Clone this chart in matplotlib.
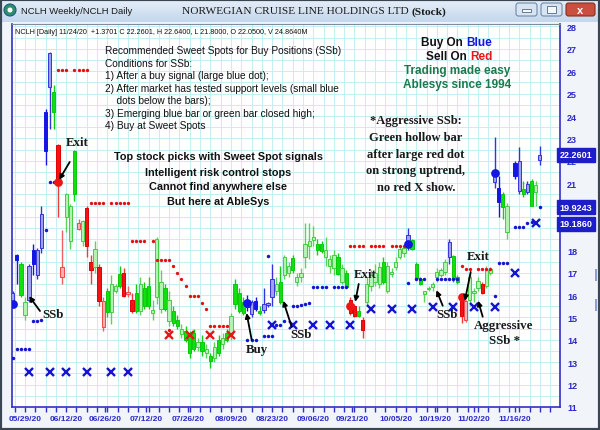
import numpy as np
import matplotlib
matplotlib.use('Agg')
import matplotlib.pyplot as plt
from matplotlib.patches import Rectangle, FancyBboxPatch, Ellipse
from matplotlib.transforms import IdentityTransform, blended_transform_factory
from matplotlib.colors import LinearSegmentedColormap

# ---------------- data ----------------
kinds = list("bBGgbBbbBb" "GRrggGrgRR" "gRrGggGRrR" "GgGGgggGgG" "GgGGGgGgGg"
             "GgGgGGGBbB" "GbbbgGggGg" "ggggGGgggG" "gGRRGRgggg" "GgggggbGGG"
             "ggggggbGGR" "rgggRggbBG" "g-BbGbGgb")
nan = np.nan
opens = [15.7, 17.8, 17.4, 15.1, 15.8, 18.0, 16.9, 18.1, 24.2, 25.3,
         25.05, 22.7, 16.8, 19.5, 18.4, 22.45, 18.95, 18.4, 19.9, 17.5,
         17.25, 17.25, 14.57, 16.2, 15.25, 16.2, 16.95, 17.0, 16.05, 15.8,
         16.1, 15.3, 16.3, 16.4, 15.2, 15.9, 15.4, 16.3, 14.85, 15.3,
         14.9, 14.25, 14.4, 14.2, 14.3, 13.7, 13.9, 13.4, 13.3, 13.2,
         14.0, 13.8, 14.3, 14.26, 16.5, 16.1, 15.7, 15.8, 15.15, 15.75,
         15.3, 15.35, 15.55, 15.9, 16.2, 16.6, 16.9, 17.0, 17.65, 16.6,
         16.8, 17.7, 18.2, 18.45, 18.3, 18.3, 17.7, 17.3, 17.2, 17.7,
         16.6, 17.0, 15.8, 15.5, 15.3, 14.9, 15.7, 16.4, 16.6, 16.5,
         17.5, 16.2, 16.95, 17.25, 17.7, 17.9, 18.2, 18.45, 17.4, 16.7,
         16.05, 16.25, 16.35, 16.8, 16.9, 17.05, 17.7, 17.75, 16.8, 15.95,
         14.9, 15.76, 16.1, 16.3, 16.5, 16.4, 17.0, 21.03, 20.8, 20.5,
         18.8, nan, 21.9, 20.67, 20.75, 20.6, 21.1, 20.6, 22.05]
highs = [16.2, 17.85, 17.5, 15.9, 17.4, 18.3, 18.1, 20.0, 24.3, 26.85,
         25.4, 22.75, 18.9, 20.55, 20.05, 22.5, 19.4, 19.35, 20.0, 17.8,
         18.4, 17.4, 15.9, 16.3, 16.9, 16.5, 17.3, 17.2, 16.4, 16.1,
         16.5, 16.8, 16.6, 16.8, 15.8, 18.6, 17.1, 16.5, 16.2, 15.5,
         15.1, 14.7, 14.6, 14.4, 14.5, 14.1, 14.2, 13.8, 13.4, 13.9,
         14.2, 14.3, 14.5, 15.2, 16.7, 16.3, 15.9, 16.0, 15.8, 15.9,
         15.5, 16.3, 15.7, 17.4, 16.8, 17.3, 17.8, 17.5, 17.8, 17.0,
         17.2, 19.2, 19.2, 19.1, 18.5, 18.4, 18.6, 17.8, 18.0, 17.9,
         17.4, 17.1, 15.9, 15.6, 15.5, 15.0, 16.8, 17.1, 17.4, 17.5,
         17.7, 17.5, 17.2, 17.7, 18.2, 18.3, 19.0, 18.5, 17.5, 16.8,
         16.2, 16.4, 16.6, 17.2, 17.2, 17.6, 18.5, 17.8, 16.9, 16.0,
         15.8, 17.0, 16.3, 16.8, 16.6, 17.3, 17.25, 23.04, 21.3, 20.6,
         20.1, nan, 22.0, 22.6, 21.1, 21.1, 21.2, 21.1, 22.64]
lows = [15.5, 16.5, 15.9, 14.9, 15.7, 16.9, 16.7, 17.9, 21.8, 23.4,
        23.4, 19.5, 16.5, 18.8, 18.05, 20.2, 18.9, 18.2, 17.7, 16.5,
        17.0, 15.5, 14.4, 15.0, 14.7, 16.1, 16.3, 15.9, 15.9, 15.2,
        15.2, 15.1, 15.4, 15.4, 14.9, 15.6, 15.2, 15.3, 14.6, 14.6,
        14.5, 14.1, 13.9, 13.2, 13.5, 13.5, 13.3, 13.2, 12.75, 13.0,
        13.3, 13.6, 13.9, 14.0, 15.4, 15.2, 15.1, 15.3, 15.0, 15.3,
        15.1, 15.2, 15.45, 15.5, 16.0, 15.6, 16.7, 16.8, 17.0, 16.4,
        16.6, 17.2, 17.6, 18.2, 17.8, 17.9, 17.3, 17.0, 16.9, 16.9,
        16.5, 16.3, 15.1, 15.0, 15.0, 14.1, 15.5, 16.2, 16.4, 16.3,
        16.5, 16.1, 16.8, 17.1, 17.6, 17.7, 18.0, 18.0, 16.7, 16.45,
        15.7, 16.2, 16.2, 16.6, 16.8, 16.9, 17.4, 16.6, 16.5, 14.75,
        14.8, 15.5, 15.7, 16.2, 16.05, 16.3, 16.9, 20.8, 19.47, 19.4,
        18.5, nan, 21.2, 20.5, 20.4, 20.5, 20.0, 20.0, 21.8]
closes = [16.1, 17.55, 16.0, 15.7, 17.3, 17.4, 18.0, 19.6, 22.45, 26.8,
          24.17, 21.05, 17.25, 20.5, 20.0, 20.5, 19.2, 19.3, 18.2, 17.1,
          18.05, 15.75, 15.75, 15.25, 16.5, 16.4, 16.4, 15.95, 16.15, 15.3,
          15.3, 16.5, 15.5, 15.5, 15.35, 18.5, 16.6, 15.4, 15.8, 14.75,
          14.6, 14.5, 14.0, 13.4, 13.6, 13.9, 13.5, 13.6, 13.07, 13.7,
          13.4, 14.1, 14.0, 15.07, 15.6, 15.3, 15.2, 15.45, 15.7, 15.4,
          15.2, 15.6, 15.6, 16.7, 16.5, 15.7, 17.7, 17.3, 17.1, 16.8,
          17.0, 18.3, 18.4, 18.6, 18.0, 17.95, 18.0, 17.6, 17.8, 16.95,
          17.2, 16.35, 15.2, 15.05, 15.05, 14.42, 16.5, 16.9, 17.0, 17.25,
          16.6, 17.3, 17.05, 17.5, 18.05, 18.1, 18.7, 18.05, 16.75, 16.5,
          16.2, 16.3, 16.5, 17.05, 17.1, 17.5, 18.35, 16.7, 16.6, 15.05,
          15.75, 16.8, 16.2, 16.65, 16.1, 17.1, 17.15, 21.55, 20.14, 19.93,
          20.0, nan, 21.3, 22.0, 20.5, 20.95, 20.0, 20.9, 22.26]

red_dot_x = [11, 12, 13, 15, 16, 17, 18, 19, 20, 21, 22, 24, 25, 26, 27, 28,
             29, 30, 31, 32, 34, 35, 36, 37, 38, 39, 40, 41, 42, 43, 44, 45, 46, 47,
             48, 49, 50, 51, 52, 38, 82, 83, 84, 85, 87, 88, 89, 90, 92, 93, 94, 95,
             109, 110, 111, 113, 114, 115, 116]
red_dot_y = [26.05, 26.05, 26.05, 26.05, 26.05, 26.05, 26.05, 20.1, 20.1, 20.1, 20.1,
             20.1, 20.1, 20.1, 20.1, 20.1, 18.4, 18.4, 18.4, 18.4, 18.4, 17.55, 17.55,
             17.55, 17.55, 17.3, 17.0, 16.7, 16.4, 15.97, 15.97, 15.97, 15.64, 15.37,
             14.63, 14.63, 14.63, 14.63, 14.63, 14.45, 18.2, 18.2, 18.2, 18.2, 18.2,
             18.2, 18.2, 18.2, 18.2, 18.2, 18.2, 18.2, 17.3, 17.16, 17.16, 17.16, 17.16,
             17.16, 17.16]
blue_dot_x = [0, 1, 2, 3, 4, 5, 6, 7, 8, 9, 10, 57, 58, 59, 61, 62, 63, 64, 65, 66, 62,
              68, 69, 70, 71, 72, 73, 74, 75, 76, 78, 79, 80, 81, 96, 98, 99, 100, 103,
              104, 105, 106, 107, 108, 117, 118, 119, 120, 122, 123, 124, 125, 126, 128]
blue_dot_y = [13.2, 13.6, 13.6, 13.6, 13.6, 14.85, 14.85, 14.9, 18.9, 21.05, 21.05,
              14.0, 14.0, 14.0, 14.15, 14.15, 14.15, 14.66, 14.66, 14.85, 17.75,
              15.5, 15.52, 15.55, 15.6, 15.66, 16.34, 16.34, 16.34, 16.34, 16.34, 16.34,
              16.34, 16.34, 16.53, 16.7, 16.7, 16.7, 16.7, 16.7, 16.7, 16.7, 16.7, 16.7,
              15.97, 17.45, 17.45, 17.45, 19.05, 19.05, 19.05, 19.2, 19.25, 19.95]
blue_x_x = [4, 9, 13, 18, 24, 28, 63, 68, 73, 77, 82, 87, 92, 97, 102, 107, 112, 117, 122, 127]
blue_x_y = [12.56, 12.56, 12.56, 12.56, 12.56, 12.56, 14.66, 14.66, 14.66, 14.66, 14.66,
            15.37, 15.37, 15.37, 15.48, 15.48, 15.48, 15.48, 16.98, 19.2]
red_x_x = [38, 43, 48, 53]
red_x_y = [14.2, 14.2, 14.2, 14.2]
big_blue_x = [0, 57, 96, 117]
big_blue_y = [15.6, 15.64, 18.3, 21.47]
big_red_x = [11, 82, 109]
big_red_y = [21.05, 15.52, 15.9]

date_labels = ['05/29/20', '06/12/20', '06/26/20', '07/12/20', '07/26/20', '08/09/20',
               '08/23/20', '09/06/20', '09/21/20', '10/05/20', '10/19/20', '11/02/20',
               '11/16/20']
date_pos = [3, 13, 22.5, 32.5, 42.5, 53, 63, 73, 82.5, 93, 102.5, 112, 122]
price_ticks = list(range(11, 29))
value_boxes = [22.2601, 19.9243, 19.1860]

header = "NCLH [Daily] 11/24/20  +1.3701 C 22.2601, H 22.6400, L 21.8000, O 22.0500, V 24.8640M"
conditions = ["Recommended Sweet Spots for Buy Positions (SSb)",
              "Conditions for SSb:",
              "1) After a buy signal (large blue dot);",
              "2) After market has tested support levels (small blue",
              "    dots below the bars);",
              "3) Emerging blue bar or green bar closed high;",
              "4) Buy at Sweet Spots"]
promo = ["Top stock picks with Sweet Spot signals",
         "Intelligent risk control stops",
         "Cannot find anywhere else",
         "But here at AbleSys"]
aggressive = ["*Aggressive SSb:", "Green hollow bar", "after large red dot",
              "on strong uptrend,", "no red X show."]

# ---------------- figure ----------------
W, H = 600, 431
SANS = ['Liberation Sans', 'DejaVu Sans']
SERIF = ['Liberation Serif', 'DejaVu Serif']
fig = plt.figure(figsize=(6, 4.31), dpi=100, facecolor='#F1F4F9')

def fx(x):
    return x / W

def fy(y):
    return 1 - y / H

ident = IdentityTransform()

# title bar gradient
tax = fig.add_axes([0, fy(23), 1, 23 / H])
grad = np.linspace(0, 1, 50).reshape(-1, 1)
tax.imshow(grad, aspect='auto', cmap=LinearSegmentedColormap.from_list('t', ['#E6EFF9', '#C4D7EC']))
tax.axis('off')

ax = fig.add_axes([fx(12), fy(408), fx(560) - fx(12), fy(25) - fy(408)])
ax.set_xlim(-0.15, 132.9)
ax.set_ylim(11, 28.11)
ax.set_facecolor('white')

# grid
for gx in np.arange(0.5, 133, 2.5):
    ax.axvline(gx, color='#C4EEF5', lw=0.7, zorder=0)
for gy in np.arange(11, 28.2, 0.5):
    ax.axhline(gy, color='#C4EEF5', lw=0.7, zorder=0)

styles = {
    'B': ('#1616E4', '#1616E4', '#1616E4'),
    'b': ('#A0A0F2', '#3434DE', '#3434DE'),
    'G': ('#10E010', '#0AC80A', '#10D010'),
    'g': ('#B2F2B2', '#44CC44', '#58D458'),
    'R': ('#F21414', '#E00000', '#F03A3A'),
    'r': ('#FFB2B2', '#F04646', '#F06060'),
}
bw = 0.8
for i, k in enumerate(kinds):
    if k == '-' or np.isnan(opens[i]):
        continue
    face, edge, wick = styles[k]
    o, h, l, c = opens[i], highs[i], lows[i], closes[i]
    ax.vlines(i, l, h, color=wick, lw=1.0, zorder=2)
    lo = min(o, c)
    ht = max(abs(c - o), 0.08)
    ax.add_patch(Rectangle((i - bw / 2, lo), bw, ht, facecolor=face, edgecolor=edge,
                           lw=0.7, zorder=3))

ax.plot(red_dot_x, red_dot_y, 'o', color='#E41010', ms=2.4, mew=0, zorder=4, ls='none')
ax.plot(blue_dot_x, blue_dot_y, 'o', color='#1414D2', ms=2.5, mew=0, zorder=4, ls='none')
ax.plot(blue_x_x, blue_x_y, 'x', color='#1414D2', ms=5.2, mew=1.7, zorder=4, ls='none')
ax.plot(red_x_x, red_x_y, 'x', color='#E41818', ms=5.2, mew=1.7, zorder=4, ls='none')
ax.plot(big_blue_x, big_blue_y, 'o', color='#1414E4', ms=6.3, mew=0, zorder=5, ls='none')
ax.plot(big_red_x, big_red_y, 'o', color='#F01414', ms=6.3, mew=0, zorder=5, ls='none')

# axes styling
for s in ['left', 'bottom', 'right']:
    ax.spines[s].set_color('#3030C8')
    ax.spines[s].set_linewidth(1.2)
ax.spines['top'].set_color('#7F8C9C')
ax.spines['top'].set_linewidth(0.8)
ax.yaxis.tick_right()
ax.set_yticks(price_ticks)
ax.set_yticklabels([str(p) for p in price_ticks], fontsize=6.5, fontweight='bold',
                   color='#2A2AC8', family=SANS)
ax.tick_params(axis='y', length=0, pad=5)
ax.set_xticks(date_pos)
ax.set_xticklabels(date_labels, fontsize=6, fontweight='bold', color='#2A2AC8', family=SANS)
ax.set_xticks(np.arange(0.5, 133, 2.5), minor=True)
ax.tick_params(axis='x', which='both', length=3.5, color='#3030C8', width=1, pad=2)

# value boxes on the right (they cover the price labels, as in the source)
bt = blended_transform_factory(ax.transAxes, ax.transData)
for v in value_boxes:
    ax.text((576 - 12) / 548, v, f"{v:.4f}", transform=bt, ha='center', va='center',
            fontsize=6.5, fontweight='bold', color='white', family=SANS, clip_on=False,
            zorder=10, bbox=dict(boxstyle='square,pad=0.28', fc='#1E1EC8', ec='#1E1EC8'))

# texts
fig.text(fx(15), fy(33), header, fontsize=5.2, color='#111111', family=SANS, va='center')
for k, line in enumerate(conditions):
    fig.text(fx(105), fy(51.5 + 12.45 * k), line, fontsize=7.3, color='#111111',
             family=SANS, va='center', ha='left')
for k, line in enumerate(promo):
    fig.text(fx(218), fy(157.5 + 15 * k), line, fontsize=7.8, fontweight='bold',
             color='#111111', family=SANS, va='center', ha='center')
for k, line in enumerate(aggressive):
    fig.text(fx(416), fy(121 + 16.8 * k), line, fontsize=9, fontweight='bold',
             color='#1A1A1A', family=SERIF, va='center', ha='center')

fig.text(fx(463), fy(43), "Buy On", fontsize=8.5, fontweight='bold', color='#111111',
         family=SANS, va='center', ha='right')
fig.text(fx(466), fy(43), "Blue", fontsize=8.5, fontweight='bold', color='#1414E0',
         family=SANS, va='center', ha='left')
fig.text(fx(467), fy(57), "Sell On", fontsize=8.5, fontweight='bold', color='#111111',
         family=SANS, va='center', ha='right')
fig.text(fx(470), fy(57), "Red", fontsize=8.5, fontweight='bold', color='#F01414',
         family=SANS, va='center', ha='left')
fig.text(fx(457.5), fy(71), "Trading made easy", fontsize=8.5, fontweight='bold',
         color='#1B7A4C', family=SANS, va='center', ha='center')
fig.text(fx(457.5), fy(85), "Ablesys since 1994", fontsize=8.5, fontweight='bold',
         color='#1B7A4C', family=SANS, va='center', ha='center')

# labels with arrows
labels = [("Exit", 77, 143, (69.7, 163), (11.3, 21.15)),
          ("SSb", 53, 315, (40, 312), (4.0, 15.95)),
          ("Buy", 257, 350, (251.7, 341), (56.8, 15.2)),
          ("SSb", 301, 335, (291.7, 328), (65.7, 15.75)),
          ("Exit", 365, 275, (358.7, 285), (83.2, 15.7)),
          ("SSb", 447, 315.5, (442.7, 306.7), (102.9, 16.22)),
          ("Exit", 478.5, 257, (470.7, 273), (109.8, 15.75)),
          ("Aggressive", 504, 326.5, (482.7, 317.7), (113.0, 15.75))]
for txt, tx, ty, start, tip in labels:
    fig.text(fx(tx), fy(ty), txt, fontsize=9.3, fontweight='bold', color='#1A1A1A',
             family=SERIF, va='center', ha='center')
    ax.annotate('', xy=tip, xycoords='data', xytext=(start[0], H - start[1]),
                textcoords='figure pixels',
                arrowprops=dict(arrowstyle='-|>', color='black', lw=1.3,
                                mutation_scale=7, shrinkA=0, shrinkB=0), zorder=8)
fig.text(fx(505), fy(341), "SSb *", fontsize=9.3, fontweight='bold', color='#1A1A1A',
         family=SERIF, va='center', ha='center')

# title bar content
fig.add_artist(Ellipse((fx(10), fy(11)), 12 / W, 12 / H, transform=fig.transFigure,
                       facecolor='#2E8F6F', edgecolor='#1C5A7A', lw=0.8))
fig.add_artist(Ellipse((fx(10), fy(11)), 5 / W, 5 / H, transform=fig.transFigure,
                       facecolor='white', edgecolor='none'))
fig.text(fx(21), fy(11.5), "NCLH Weekly/NCLH Daily", fontsize=6.8, color='#1A1A1A',
         family=SANS, va='center', ha='left')
fig.text(fx(412), fy(12), "NORWEGIAN CRUISE LINE HOLDINGS LTD ", fontsize=8.2,
         color='#1A1A1A', family=SERIF, va='center', ha='right')
fig.text(fx(412), fy(12), "(Stock)", fontsize=8.2, fontweight='bold', color='#1A1A1A',
         family=SERIF, va='center', ha='left')

for x0, x1, fc, ec in [(516, 537, '#D8E4F2', '#6F89A8'), (541, 562, '#D8E4F2', '#6F89A8'),
                       (566, 595, '#C9503F', '#8A2A20')]:
    fig.add_artist(FancyBboxPatch((x0, H - 17), x1 - x0, 13, boxstyle='round,pad=0,rounding_size=2.5',
                                  transform=ident, facecolor=fc, edgecolor=ec, lw=0.8))
fig.add_artist(Rectangle((522, H - 12.5), 9, 2.5, transform=ident, facecolor='#F4F8FC',
                         edgecolor='#506A88', lw=0.6))
fig.add_artist(Rectangle((547, H - 14), 9, 7, transform=ident, facecolor='#F4F8FC',
                         edgecolor='#506A88', lw=0.6))
fig.text(580.5 / W, fy(10.5), "x", fontsize=8, fontweight='bold', color='white',
         family=SANS, va='center', ha='center')

# right edge small marks
for y0, y1 in [(270, 282), (300, 312)]:
    fig.add_artist(Rectangle((595, H - y1), 2, y1 - y0, transform=ident,
                             facecolor='#8C9FD0', edgecolor='none'))

# window border
fig.add_artist(Rectangle((0, 0), 1, 1, transform=fig.transFigure, fill=False,
                         edgecolor='#3A4552', lw=3))

fig.savefig('out.png', dpi=100, facecolor=fig.get_facecolor())
